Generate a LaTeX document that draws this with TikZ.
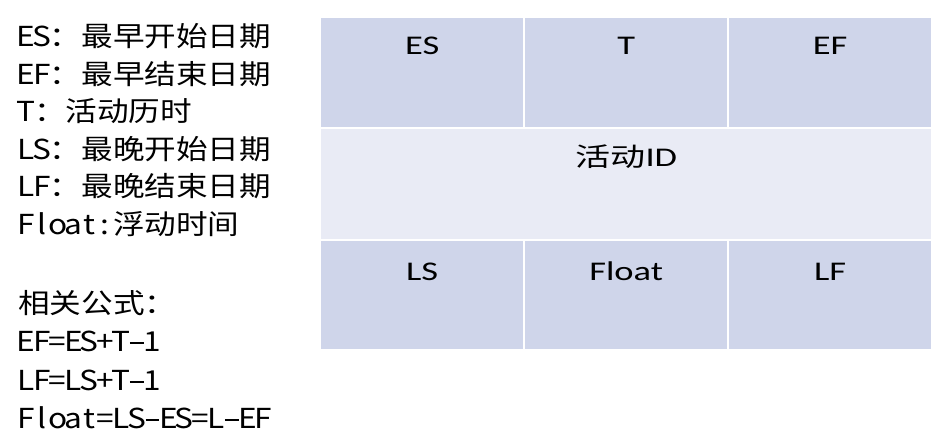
\documentclass[tikz,border=0pt]{standalone}
\usepackage{fontspec}
\newfontfamily\cjkleft[FakeStretch=1.15]{Noto Sans CJK SC}
\newfontfamily\cjkcell[FakeStretch=1.35]{Noto Sans CJK SC}
\newfontfamily\calibrifont[FakeStretch=1.35]{Carlito}
\newcommand\hwminus{\rule[0.27em]{0.5em}{0.075em}}
\newcommand\hwchars[1]{\hwloop#1\relax}
\def\hwloop#1{\ifx\relax#1\else\makebox[0.575em]{#1}\expandafter\hwloop\fi}
\definecolor{cellDark}{HTML}{CFD5EA}
\definecolor{cellLight}{HTML}{E9EBF5}
\tikzset{
  lefttext/.style={anchor=base west, inner sep=0pt, font=\cjkleft\fontsize{27.5}{30}\selectfont},
  cellbox/.style={anchor=north west, inner sep=0pt, draw=none, minimum width=202pt},
  darkcell/.style={cellbox, fill=cellDark, minimum height=109pt},
  lightcell/.style={cellbox, fill=cellLight, minimum width=610pt, minimum height=110pt},
  celltext/.style={anchor=base, inner sep=0pt, font=\calibrifont\fontsize{27}{30}\selectfont}
}
\begin{document}
\begin{tikzpicture}[x=1pt,y=1pt]
\useasboundingbox (0,0) rectangle (952,-443);
% left legend
\node[lefttext] (l1) at (18,-47) {\hwchars{ES}：最早开始日期};
\node[lefttext] (l2) at (18,-84.5) {\hwchars{EF}：最早结束日期};
\node[lefttext] (l3) at (18,-122) {\hwchars{T}：活动历时};
\node[lefttext] (l4) at (18,-159.5) {\hwchars{LS}：最晚开始日期};
\node[lefttext] (l5) at (18,-197) {\hwchars{LF}：最晚结束日期};
\node[lefttext] (l6) at (18,-234.5) {\hwchars{Float:}浮动时间};
\node[lefttext] (f0) at (18,-313) {相关公式：};
\node[lefttext] (f1) at (18,-351.5) {\hwchars{EF=ES+T\hwminus 1}};
\node[lefttext] (f2) at (18,-390) {\hwchars{LF=LS+T\hwminus 1}};
\node[lefttext] (f3) at (18,-428.5) {\hwchars{Float=LS\hwminus ES=L\hwminus EF}};
% table
\node[darkcell] (cES) at (321,-18) {};
\node[darkcell] (cT) at (525,-18) {};
\node[darkcell] (cEF) at (729,-18) {};
\node[lightcell] (cID) at (321,-129) {};
\node[darkcell, minimum height=108pt] (cLS) at (321,-241) {};
\node[darkcell, minimum height=108pt] (cFl) at (525,-241) {};
\node[darkcell, minimum height=108pt] (cLF) at (729,-241) {};
\node[celltext] (tES) at ([yshift=-37pt]cES.north) {ES};
\node[celltext] (tT) at ([yshift=-37pt]cT.north) {T};
\node[celltext] (tEF) at ([yshift=-37pt]cEF.north) {EF};
\node[celltext] (tID) at ([yshift=-38pt]cID.north) {{\cjkcell\fontsize{26}{30}\selectfont 活动}ID};
\node[celltext] (tLS) at ([yshift=-39pt]cLS.north) {LS};
\node[celltext] (tFl) at ([yshift=-39pt]cFl.north) {Float};
\node[celltext] (tLF) at ([yshift=-39pt]cLF.north) {LF};
\end{tikzpicture}
\end{document}
